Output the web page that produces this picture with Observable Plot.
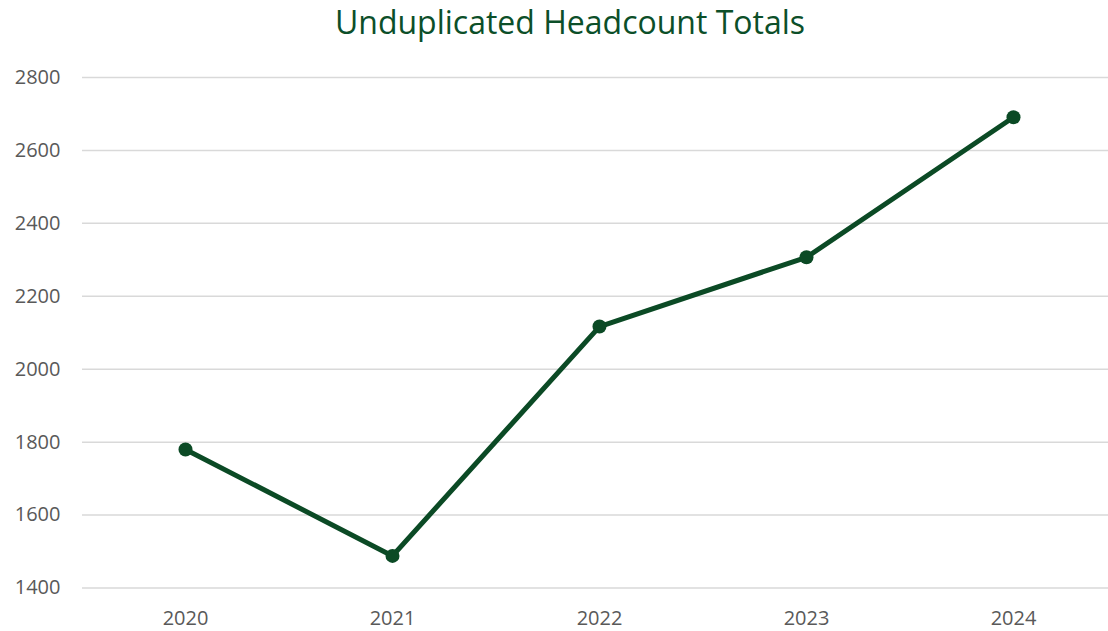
<!DOCTYPE html>
<html>
<head>
<meta charset="utf-8">
<script src="https://cdn.jsdelivr.net/npm/d3@7"></script>
<script src="https://cdn.jsdelivr.net/npm/@observablehq/plot@0.6"></script>
<style>
  body { margin: 0; background: #fff; width: 1108px; height: 631px; overflow: hidden; }
  #title { height: 46px; line-height: 44px; text-align: center; padding-left: 32px; font-family: "Open Sans", sans-serif; font-size: 32px; color: #0c4f29; }
</style>
</head>
<body>
<div id="title">Unduplicated Headcount Totals</div>
<div id="chart"></div>
<script>
const years = ["2020", "2021", "2022", "2023", "2024"];
const headcount = [1780, 1488, 2117, 2307, 2691];
const yTicks = [1400, 1600, 1800, 2000, 2200, 2400, 2600, 2800];

const data = years.map((y, i) => ({year: y, value: headcount[i]}));
const green = "#0b4a25";

const chart = Plot.plot({
  width: 1108,
  height: 585,
  marginTop: 31,
  marginBottom: 43.5,
  marginLeft: 82,
  marginRight: 0,
  style: {fontFamily: "'Open Sans', sans-serif", fontSize: "20px", color: "#595959", background: "#fff"},
  x: {type: "point", domain: years, range: [185, 1013], padding: 0, label: null},
  y: {domain: [1400, 2800], label: null},
  marks: [
    Plot.gridY(yTicks, {stroke: "#d9d9d9", strokeOpacity: 1, strokeWidth: 1.5}),
    Plot.axisX({tickSize: 0, tickPadding: 23, fontSize: 20}),
    Plot.axisY({ticks: yTicks, tickFormat: "d", tickSize: 0, tickPadding: 22, fontSize: 20}),
    Plot.line(data, {x: "year", y: "value", stroke: green, strokeWidth: 5, strokeLinejoin: "round"}),
    Plot.dot(data, {x: "year", y: "value", r: 7, fill: green, stroke: "none"})
  ]
});
document.getElementById("chart").appendChild(chart);
</script>
</body>
</html>
